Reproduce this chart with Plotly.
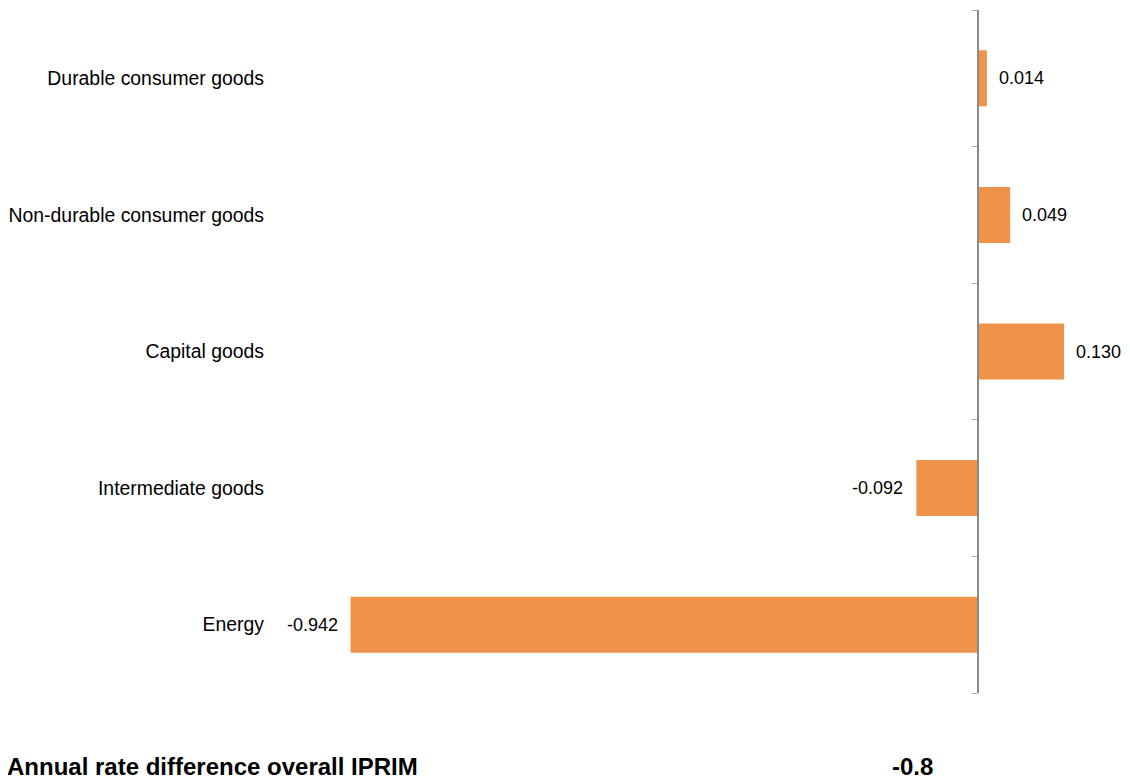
import plotly.graph_objects as go

categories = ["Durable consumer goods", "Non-durable consumer goods", "Capital goods",
              "Intermediate goods", "Energy"]
values = [0.014, 0.049, 0.130, -0.092, -0.942]
footer_label = "Annual rate difference overall IPRIM"
footer_value = "-0.8"

BAR = "#EE9349"
AXIS = "#8A8A8A"
FONT = "Arial, Liberation Sans, sans-serif"

# page body has an 8px margin, so the figure is sized/offset to compensate
OFF = 8
x_range = [-1.063, 0.229]
W, H = 1130 - OFF, 778 - OFF
ML, MR, MT, MB = 270 - OFF, 0, 10 - OFF, 85
pw = W - ML - MR
ph = H - MT - MB
zero_pos = (0 - x_range[0]) / (x_range[1] - x_range[0])

fig = go.Figure()
fig.add_trace(go.Bar(
    x=values, y=categories, orientation="h",
    marker=dict(color=BAR, line=dict(width=0)),
    width=0.41, hoverinfo="x+y", showlegend=False,
))
# invisible helper so the boundary-tick axis is drawn
fig.add_trace(go.Scatter(
    x=[None], y=[None], yaxis="y2", mode="markers",
    showlegend=False, hoverinfo="skip",
))

annotations = []
for c, v in zip(categories, values):
    annotations.append(dict(
        x=v, y=c, xref="x", yref="y", text=f"{v:.3f}", showarrow=False,
        xanchor="left" if v >= 0 else "right", xshift=10 if v >= 0 else -11,
        font=dict(family=FONT, size=18, color="#000000"),
    ))

foot_y = (MT + ph - (766.5 - OFF)) / ph
annotations.append(dict(
    x=(-3 - ML) / pw, y=foot_y, xref="paper", yref="paper",
    text=f"<b>{footer_label}</b>", showarrow=False, xanchor="left", yanchor="middle",
    font=dict(family=FONT, size=24, color="#000000"),
))
annotations.append(dict(
    x=(912.5 - OFF - ML) / pw, y=foot_y, xref="paper", yref="paper",
    text=f"<b>{footer_value}</b>", showarrow=False, xanchor="center", yanchor="middle",
    font=dict(family=FONT, size=24, color="#000000"),
))

n = len(categories)
fig.update_layout(
    width=W, height=H,
    margin=dict(l=ML, r=MR, t=MT, b=MB),
    paper_bgcolor="white", plot_bgcolor="white",
    font=dict(family=FONT, color="#000000"),
    xaxis=dict(range=x_range, showgrid=False, zeroline=False, showticklabels=False,
               ticks="", showline=False, fixedrange=True),
    yaxis=dict(type="category", categoryorder="array", categoryarray=categories,
               autorange="reversed", showgrid=False, zeroline=False, showline=False,
               ticks="", ticklabelstandoff=5,
               tickfont=dict(family=FONT, size=19.4, color="#000000")),
    yaxis2=dict(overlaying="y", anchor="free", position=zero_pos, side="left",
                range=[n - 0.5, -0.5], tickmode="array",
                tickvals=[i - 0.5 for i in range(n + 1)],
                ticks="outside", ticklen=5, tickwidth=1.2, tickcolor="#A8A8A8",
                showticklabels=False, showgrid=False, zeroline=False,
                showline=True, linecolor=AXIS, linewidth=1.6),
    annotations=annotations,
)

fig.write_html("out.html")
